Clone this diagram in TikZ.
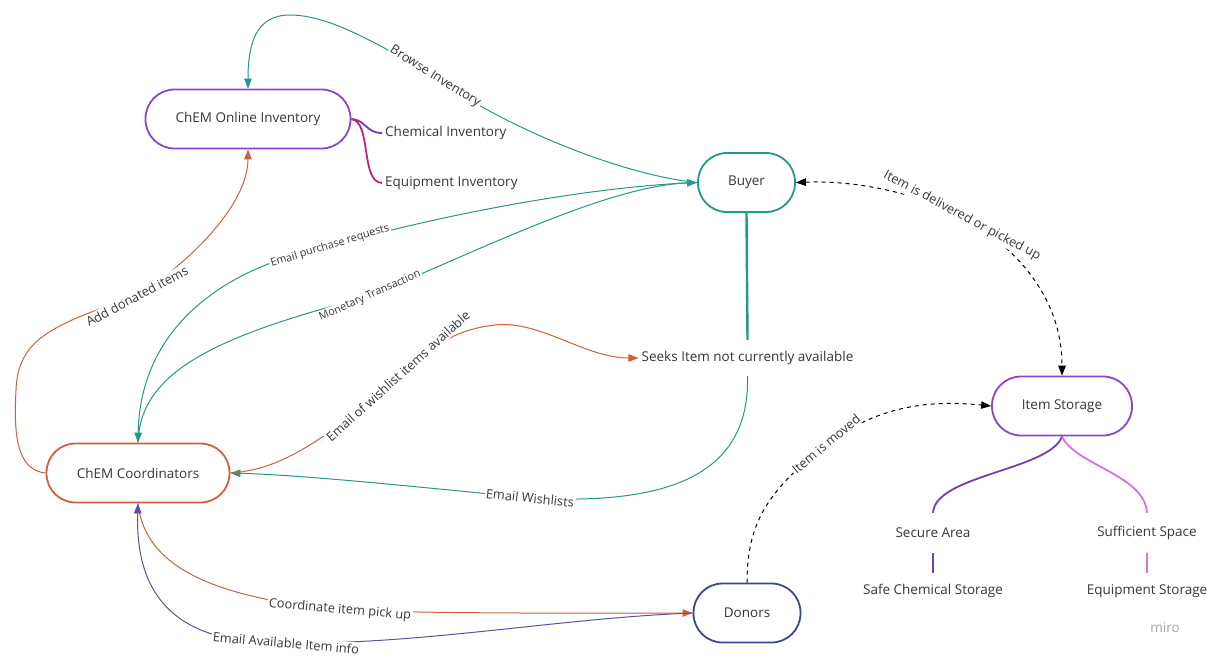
\documentclass[tikz,border=0pt]{standalone}
\usepackage{fontspec}
\setmainfont{Open Sans}
\usetikzlibrary{arrows.meta,backgrounds}
\pgfdeclarelayer{bottom}
\pgfsetlayers{bottom,background,main}
\definecolor{tealc}{RGB}{38,152,138}
\definecolor{orangec}{RGB}{208,95,62}
\definecolor{purplec}{RGB}{140,70,200}
\definecolor{darkpurple}{RGB}{115,60,185}
\definecolor{magentac}{RGB}{190,35,120}
\definecolor{indigoc}{RGB}{60,70,150}
\definecolor{lineindigo}{RGB}{95,80,160}
\definecolor{pinkc}{RGB}{212,115,222}
\definecolor{txt}{RGB}{55,55,55}
\tikzset{
  pill/.style={draw, line width=1.8pt, rounded corners=29pt, fill=white, text=txt, font=\fontsize{13.5}{15}\selectfont, minimum height=59pt},
  plain/.style={text=txt, font=\fontsize{13.5}{15}\selectfont, inner sep=3pt},
  lbl/.style={fill=white, text=txt, font=\fontsize{12.8}{14}\selectfont, inner sep=1.5pt},
  smalllbl/.style={lbl, font=\fontsize{10.8}{12}\selectfont},
  conn/.style={line width=1pt},
  tip/.style={-{Triangle[length=10pt,width=7.5pt]}},
  dashconn/.style={line width=1pt, black, dash pattern=on 4pt off 4pt},
}
\begin{document}
\begin{tikzpicture}[x=1pt,y=-1pt]
\begin{pgfonlayer}{bottom}
\fill[white] (0,0) rectangle (1207,656);
\end{pgfonlayer}
\useasboundingbox (0,0) rectangle (1207,656);
% main nodes
\node[pill, draw=purplec, minimum width=205pt] (oi) at (248,119) {ChEM Online Inventory};
\node[pill, draw=tealc, minimum width=97pt] (buyer) at (746.5,182.5) {Buyer};
\node[pill, draw=purplec, minimum width=140pt] (store) at (1062,406) {Item Storage};
\node[pill, draw=orangec, minimum width=183pt] (coord) at (138,473) {ChEM Coordinators};
\node[pill, draw=indigoc, minimum width=107pt] (donors) at (747,613) {Donors};
\node[plain, minimum height=36pt] (seeks) at (747.5,358) {Seeks Item not currently available};
\node[plain, anchor=west] (ci) at (382,133) {Chemical Inventory};
\node[plain, anchor=west] (ei) at (382,183) {Equipment Inventory};
\node[plain, minimum height=40pt] (sa) at (933,533) {Secure Area};
\node[plain, minimum height=40pt] (ss) at (1147,533) {Sufficient Space};
\node[plain, minimum height=36pt] (scs) at (933,591) {Safe Chemical Storage};
\node[plain, minimum height=36pt] (es) at (1147,591) {Equipment Storage};
\node[text=black!35, font=\fontsize{13.5}{15}\selectfont] (miro) at (1165,628) {miro};
% labels
\node[lbl, rotate=-32] (bi) at (435,77) {Browse Inventory};
\node[smalllbl, rotate=17] (epr) at (330,246) {Email purchase requests};
\node[smalllbl, rotate=24] (mt) at (370,296) {Monetary Transaction};
\node[lbl, rotate=28] (adi) at (137,296) {Add donated items};
\node[lbl, rotate=42] (ewa) at (398,376) {Email of wishlist items available};
\node[lbl, rotate=-6] (ewl) at (530,498) {Email Wishlists};
\node[lbl, rotate=-5] (cip) at (340,610) {Coordinate item pick up};
\node[lbl, rotate=-5] (eai) at (286,643) {Email Available Item info};
\node[lbl, rotate=-28] (idp) at (962,216) {Item is delivered or picked up};
\node[lbl, rotate=40] (iim) at (826,444) {Item is moved};
\begin{scope}[on background layer]
% teal
\draw[conn, tealc, tip] (buyer.west) .. controls (620,175) and (500,125) .. (bi.center)
  .. controls (380,45) and (330,15) .. (290,15) .. controls (255,15) and (248,45) .. (oi.north);
\draw[conn, tealc, tip] (buyer.west) .. controls (600,186) and (460,210) .. (epr.center)
  .. controls (220,268) and (140,330) .. (coord.north);
\draw[conn, tealc, tip] (coord.north) .. controls (140,370) and (220,335) .. (mt.center)
  .. controls (490,245) and (610,186) .. (buyer.west);
\draw[line width=2.4pt, tealc] (buyer.south) -- (seeks.north);
\draw[conn, tealc, tip] (seeks.south) .. controls (750,480) and (660,505) .. (ewl.center)
  .. controls (400,485) and (300,475) .. (coord.east);
% orange
\draw[conn, orangec, tip] (coord.west) .. controls (15,470) and (14,430) .. (16,390)
  .. controls (18,340) and (50,325) .. (adi.center)
  .. controls (200,255) and (248,200) .. (oi.south);
\draw[conn, orangec, tip] (coord.east) .. controls (270,470) and (310,455) .. (ewa.center)
  .. controls (430,350) and (450,330) .. (495,325) .. controls (540,320) and (585,358) .. (seeks.west);
\draw[conn, orangec, tip] (coord.south) .. controls (145,570) and (220,598) .. (cip.center)
  .. controls (450,614) and (600,613) .. (donors.west);
% indigo
\draw[conn, lineindigo, tip] (donors.west) .. controls (560,618) and (420,645) .. (eai.center)
  .. controls (180,645) and (135,600) .. (coord.south);
% dashed
\draw[dashconn, {Triangle[length=10pt,width=7.5pt]}-{Triangle[length=10pt,width=7.5pt]}] (buyer.east) .. controls (860,180) and (920,195) .. (idp.center)
  .. controls (1020,250) and (1062,300) .. (store.north);
\draw[dashconn, tip] (donors.north) .. controls (747,520) and (770,490) .. (iim.center)
  .. controls (880,405) and (930,400) .. (store.west);
% branches
\draw[line width=1.8pt, darkpurple] (oi.east) .. controls (366,120) and (366,133) .. (ci.west);
\draw[line width=1.8pt, magentac] (oi.east) .. controls (372,122) and (360,182) .. (ei.west);
\draw[line width=1.8pt, darkpurple] (store.south) .. controls (1050,470) and (935,475) .. (sa.north);
\draw[line width=1.8pt, pinkc] (store.south) .. controls (1075,465) and (1145,475) .. (ss.north);
\draw[line width=2.2pt, darkpurple] (sa.south) -- (scs.north);
\draw[line width=2.2pt, pinkc] (ss.south) -- (es.north);
\end{scope}
\end{tikzpicture}
\end{document}
